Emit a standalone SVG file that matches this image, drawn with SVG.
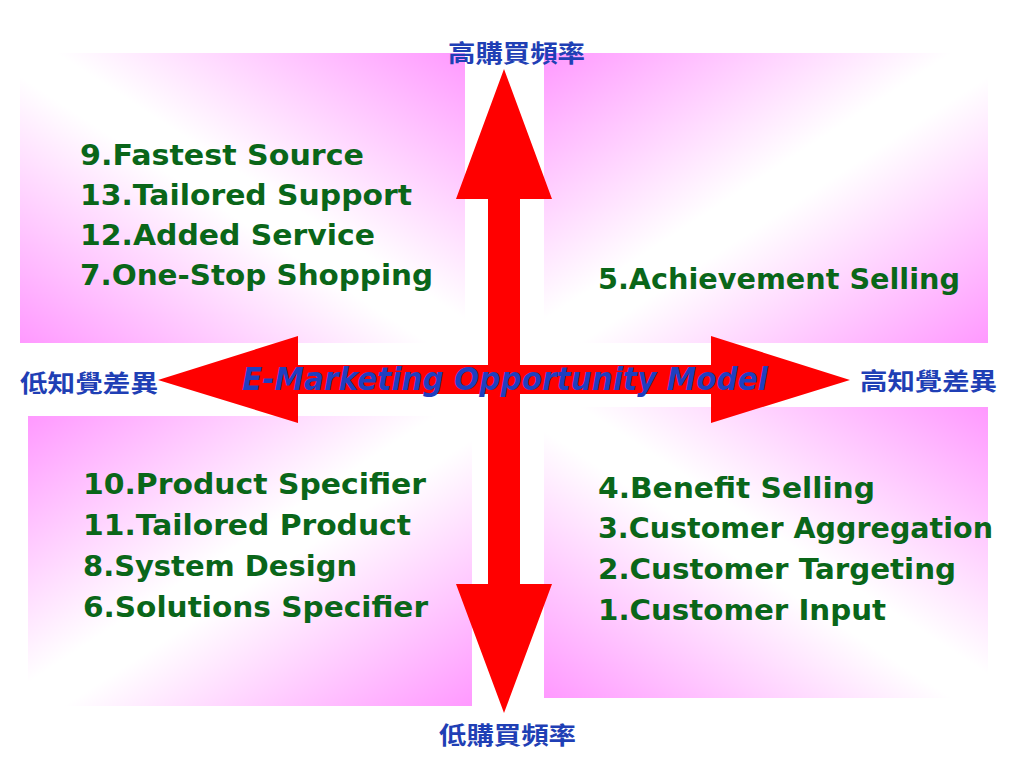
<svg xmlns="http://www.w3.org/2000/svg" width="1024" height="768" viewBox="0 0 1024 768">
  <defs>
    <linearGradient id="gTRBL" x1="1" y1="0" x2="0" y2="1">
      <stop offset="0" stop-color="#ff99ff"/>
      <stop offset="0.46" stop-color="#ffffff"/>
      <stop offset="0.54" stop-color="#ffffff"/>
      <stop offset="1" stop-color="#ff99ff"/>
    </linearGradient>
    <linearGradient id="gTLBR" x1="0" y1="0" x2="1" y2="1">
      <stop offset="0" stop-color="#ff99ff"/>
      <stop offset="0.46" stop-color="#ffffff"/>
      <stop offset="0.54" stop-color="#ffffff"/>
      <stop offset="1" stop-color="#ff99ff"/>
    </linearGradient>
  </defs>
  <style>
    .item { font-family: "DejaVu Sans", "Liberation Sans", sans-serif; font-weight: bold; font-size: 28px; fill: #0a6619; }
    .axis { font-family: "Noto Sans CJK TC", "Noto Sans CJK SC", sans-serif; font-weight: bold; font-size: 24px; fill: #1f3fb5; }
    .title { font-family: "DejaVu Sans", "Liberation Sans", sans-serif; font-weight: bold; font-style: italic; font-size: 32px; fill: #1f3fc0; }
    .arrow { fill: #ff0000; }
  </style>
  <rect width="1024" height="768" fill="#ffffff"/>

  <g id="quadrant-top-left">
    <rect x="20" y="53" width="445" height="290" fill="url(#gTRBL)"/>
    <text class="item" x="80" y="165" textLength="284" lengthAdjust="spacingAndGlyphs">9.Fastest Source</text>
    <text class="item" x="80" y="205" textLength="332" lengthAdjust="spacingAndGlyphs">13.Tailored Support</text>
    <text class="item" x="80" y="245" textLength="295" lengthAdjust="spacingAndGlyphs">12.Added Service</text>
    <text class="item" x="80" y="285" textLength="353" lengthAdjust="spacingAndGlyphs">7.One-Stop Shopping</text>
  </g>

  <g id="quadrant-top-right">
    <rect x="544" y="53" width="444" height="290" fill="url(#gTLBR)"/>
    <text class="item" x="598" y="289" textLength="362" lengthAdjust="spacingAndGlyphs">5.Achievement Selling</text>
  </g>

  <g id="quadrant-bottom-left">
    <rect x="28" y="416" width="444" height="290" fill="url(#gTLBR)"/>
    <text class="item" x="83" y="494" textLength="343" lengthAdjust="spacingAndGlyphs">10.Product Specifier</text>
    <text class="item" x="83" y="535" textLength="328" lengthAdjust="spacingAndGlyphs">11.Tailored Product</text>
    <text class="item" x="83" y="576" textLength="274" lengthAdjust="spacingAndGlyphs">8.System Design</text>
    <text class="item" x="83" y="617" textLength="345" lengthAdjust="spacingAndGlyphs">6.Solutions Specifier</text>
  </g>

  <g id="quadrant-bottom-right">
    <rect x="544" y="407" width="444" height="291" fill="url(#gTRBL)"/>
    <text class="item" x="598" y="498" textLength="277" lengthAdjust="spacingAndGlyphs">4.Benefit Selling</text>
    <text class="item" x="598" y="538" textLength="395" lengthAdjust="spacingAndGlyphs">3.Customer Aggregation</text>
    <text class="item" x="598" y="579" textLength="358" lengthAdjust="spacingAndGlyphs">2.Customer Targeting</text>
    <text class="item" x="598" y="620" textLength="288" lengthAdjust="spacingAndGlyphs">1.Customer Input</text>
  </g>

  <g id="connectors">
    <polygon class="arrow" points="504,69 552,199 520,199 520,584 552,584 504,713 456,584 488,584 488,199 456,199"/>
    <polygon class="arrow" points="158,380 298,336 298,365 711,365 711,336 850,380 711,423 711,394 298,394 298,423"/>
  </g>

  <g id="axis-labels">
    <text class="axis" x="448" y="62" textLength="137" lengthAdjust="spacingAndGlyphs">高購買頻率</text>
    <text class="axis" x="439" y="744" textLength="137" lengthAdjust="spacingAndGlyphs">低購買頻率</text>
    <text class="axis" x="20" y="392" textLength="138" lengthAdjust="spacingAndGlyphs">低知覺差異</text>
    <text class="axis" x="860" y="390" textLength="137" lengthAdjust="spacingAndGlyphs">高知覺差異</text>
  </g>

  <g id="title">
    <text class="title" x="242" y="390" textLength="526" lengthAdjust="spacingAndGlyphs">E-Marketing Opportunity Model</text>
  </g>
</svg>
